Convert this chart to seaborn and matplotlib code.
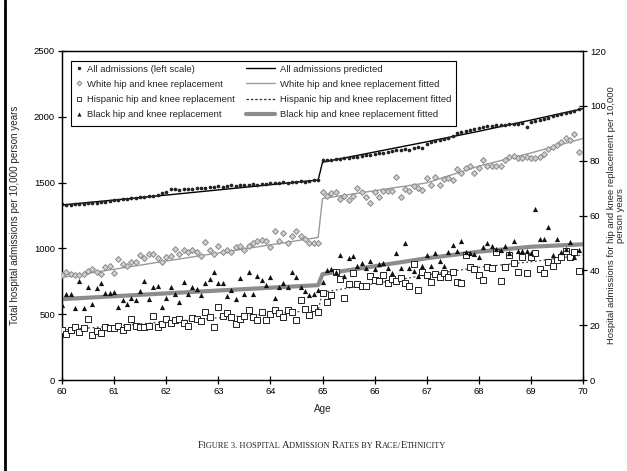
import numpy as np
import pandas as pd
import matplotlib
matplotlib.use("Agg")
import matplotlib.pyplot as plt
import seaborn as sns
from matplotlib.lines import Line2D
from matplotlib.patches import Rectangle
from matplotlib.offsetbox import TextArea, HPacker, AnchoredOffsetbox

# ---------------- data ----------------
age = np.round(60 + np.arange(120) / 12, 4)

all_adm = [
    1334, 1328, 1332, 1337, 1335, 1340, 1343, 1342, 1348, 1352, 1356, 1358,
    1364, 1370, 1372, 1376, 1380, 1384, 1388, 1392, 1396, 1401, 1408, 1422,
    1428, 1448, 1452, 1446, 1450, 1454, 1448, 1456, 1460, 1458, 1464, 1468,
    1472, 1468, 1474, 1478, 1472, 1482, 1478, 1480, 1486, 1482, 1488, 1492,
    1500, 1494, 1500, 1504, 1498, 1506, 1504, 1510, 1508, 1514, 1518, 1522,
    1668, 1672, 1675, 1678, 1680, 1684, 1688, 1692, 1698, 1702, 1706, 1712,
    1718, 1722, 1728, 1734, 1738, 1744, 1748, 1754, 1750, 1762, 1772, 1766,
    1790, 1808, 1814, 1820, 1832, 1840, 1852, 1874, 1886, 1892, 1900, 1908,
    1916, 1924, 1930, 1928, 1936, 1934, 1940, 1944, 1948, 1946, 1952, 1920,
    1958, 1966, 1972, 1984, 1992, 2004, 2016, 2024, 2030, 2040, 2046, 2058,
]

white = [
    38.3, 39.5, 38.7, 38.3, 38.3, 38.7, 39.9, 40.5, 39.5, 38.7, 41.1, 41.6,
    39.1, 44.0, 42.2, 41.6, 43.0, 43.0, 45.6, 44.4, 45.8, 45.8, 44.6, 42.9,
    45.0, 45.3, 47.7, 45.9, 47.4, 46.8, 47.4, 46.8, 45.2, 50.4, 47.4, 45.9,
    48.9, 46.8, 47.4, 46.8, 48.6, 48.9, 47.4, 48.9, 49.8, 50.8, 51.1, 50.8,
    48.4, 54.3, 50.8, 53.5, 49.8, 52.5, 54.5, 52.5, 51.3, 50.1, 50.1, 50.1,
    68.7, 67.2, 68.1, 68.7, 66.2, 67.1, 65.6, 67.1, 69.9, 68.7, 66.8, 64.4,
    68.7, 66.8, 69.0, 68.9, 69.0, 73.9, 66.8, 69.5, 68.9, 70.7, 69.9, 69.3,
    73.5, 71.1, 73.9, 71.1, 73.2, 73.5, 72.9, 76.8, 75.6, 77.5, 78.0, 75.6,
    77.5, 80.2, 78.0, 78.0, 78.0, 78.0, 80.2, 81.4, 81.7, 80.8, 80.8, 81.4,
    80.8, 80.8, 81.4, 82.6, 84.1, 85.1, 85.7, 86.9, 88.1, 87.5, 89.7, 83.3,
]

hispanic = [
    18.2, 16.6, 18.2, 19.4, 17.4, 18.8, 22.2, 16.4, 17.9, 17.3, 19.4, 18.8,
    18.8, 19.7, 18.2, 19.4, 22.2, 19.7, 19.2, 19.2, 19.7, 23.3, 19.4, 20.4,
    22.2, 20.9, 21.9, 22.2, 20.9, 19.7, 22.7, 22.2, 21.6, 24.9, 23.1, 19.4,
    26.7, 23.5, 24.3, 22.9, 20.4, 22.1, 23.5, 25.5, 22.9, 21.9, 24.9, 21.9,
    24.1, 25.5, 24.3, 22.9, 25.5, 24.7, 21.9, 29.2, 25.8, 23.7, 26.1, 24.9,
    31.8, 28.3, 31.0, 39.5, 36.7, 29.8, 35.0, 38.9, 35.0, 34.3, 34.3, 37.9,
    36.5, 36.2, 38.3, 35.2, 36.7, 36.2, 37.1, 35.5, 34.3, 42.3, 32.8, 39.5,
    38.3, 35.9, 38.7, 37.4, 38.9, 37.4, 39.5, 35.9, 35.2, 45.6, 41.1, 40.5,
    38.3, 36.5, 41.3, 40.7, 46.8, 36.2, 41.1, 45.6, 42.8, 39.5, 44.7, 39.1,
    45.0, 46.4, 40.5, 38.9, 43.1, 41.6, 43.8, 45.0, 47.2, 45.0, 46.8, 39.9,
]

black = [
    27.4, 31.2, 31.2, 26.1, 36.1, 26.1, 34.0, 27.9, 33.4, 35.2, 31.6, 31.6,
    32.0, 26.7, 29.2, 27.9, 29.8, 29.2, 32.6, 36.2, 29.7, 33.8, 34.3, 26.5,
    29.8, 33.8, 31.4, 28.6, 35.9, 31.4, 33.8, 33.1, 31.0, 35.5, 36.7, 39.5,
    35.2, 35.2, 30.6, 32.8, 29.5, 37.1, 31.2, 39.5, 31.2, 38.0, 36.5, 34.6,
    37.4, 30.0, 33.8, 35.5, 33.8, 39.5, 37.4, 33.8, 32.6, 31.0, 31.4, 32.8,
    35.9, 40.1, 40.5, 39.5, 45.6, 37.9, 44.4, 45.2, 41.6, 42.8, 40.7, 43.4,
    40.5, 42.3, 42.5, 41.0, 39.1, 46.4, 41.0, 49.8, 41.0, 39.9, 37.9, 41.6,
    45.6, 41.6, 46.2, 43.4, 41.6, 46.8, 49.2, 47.0, 50.8, 46.8, 46.2, 45.8,
    45.0, 48.6, 50.1, 48.9, 47.6, 47.4, 48.9, 46.2, 50.7, 47.2, 47.2, 47.2,
    46.2, 62.4, 51.3, 51.4, 55.9, 45.6, 51.4, 46.8, 47.6, 50.4, 45.0, 47.4,
]

# fitted lines (piecewise, break at 65)
fit_age = [60.0, 62.0, 64.917, 65.0, 67.0, 68.0, 69.0, 70.0]
all_pred = [1330, 1405, 1520, 1655, 1810, 1890, 1975, 2062]
white_fit = [37.4, 43.4, 52.0, 66.2, 71.9, 78.0, 82.8, 88.1]
hisp_fit = [18.2, 21.2, 25.5, 32.0, 38.3, 41.1, 43.1, 45.6]
black_fit = [29.5, 31.6, 34.6, 38.6, 44.4, 46.8, 48.6, 49.5]

x_ticks = [60, 61, 62, 63, 64, 65, 66, 67, 68, 69, 70]
left_ticks = [0, 500, 1000, 1500, 2000, 2500]
right_ticks = [0, 20, 40, 60, 80, 100, 120]

pts = pd.DataFrame({"age": age, "all": all_adm, "white": white,
                    "hispanic": hispanic, "black": black})
fits = pd.DataFrame({"age": fit_age, "all": all_pred, "white": white_fit,
                     "hispanic": hisp_fit, "black": black_fit})

# ---------------- style ----------------
sns.set_theme(style="ticks")
plt.rcParams["font.family"] = ["Liberation Sans", "DejaVu Sans"]
plt.rcParams["axes.linewidth"] = 0.9

W, H = 627, 471
fig = plt.figure(figsize=(W / 100, H / 100), dpi=100)
ax = fig.add_axes([62 / W, 1 - 380 / H, (583 - 62) / W, (380 - 51) / H])
ax2 = ax.twinx()

FS = 6.8

# left axis: all admissions
sns.lineplot(data=fits, x="age", y="all", ax=ax, color="black", lw=1.0,
             zorder=2, legend=False)
sns.scatterplot(data=pts, x="age", y="all", ax=ax, color="#222222", s=7,
                marker="o", linewidth=0, zorder=3, legend=False)

# right axis series
sns.lineplot(data=fits, x="age", y="black", ax=ax2, color="#8c8c8c", lw=3.0,
             zorder=2, legend=False)
sns.lineplot(data=fits, x="age", y="white", ax=ax2, color="#9a9a9a", lw=1.0,
             zorder=2, legend=False)
sns.lineplot(data=fits, x="age", y="hispanic", ax=ax2, color="#444444", lw=0.9,
             zorder=2, legend=False, linestyle=(0, (1.5, 2)))
sns.scatterplot(data=pts, x="age", y="white", ax=ax2, marker="D", s=9,
                facecolor="#d0d0d0", edgecolor="#8a8a8a", linewidth=0.7,
                zorder=3, legend=False)
sns.scatterplot(data=pts, x="age", y="hispanic", ax=ax2, marker="s", s=13,
                facecolor="white", edgecolor="#222222", linewidth=0.7,
                zorder=3, legend=False)
sns.scatterplot(data=pts, x="age", y="black", ax=ax2, marker="^", s=14,
                color="#111111", linewidth=0, zorder=3, legend=False)

ax.set_xlim(60, 70)
ax.set_ylim(0, 2500)
ax2.set_ylim(0, 120)
ax.set_xticks(x_ticks)
ax.set_yticks(left_ticks)
ax2.set_yticks(right_ticks)
for a in (ax, ax2):
    a.tick_params(direction="inout", length=6, width=0.9, labelsize=FS,
                  pad=2, colors="black")
    for s in a.spines.values():
        s.set_color("black")
        s.set_linewidth(0.9)

ax.set_xlabel("Age", fontsize=FS + 0.3, labelpad=6)
ax.set_ylabel("Total hospital admissions per 10,000 person years",
              fontsize=FS + 0.3, labelpad=10)
ax2.set_ylabel("Hospital admissions for hip and knee replacement per 10,000\nperson years",
               fontsize=FS, labelpad=1, linespacing=0.95)

# legend: two columns drawn as two frameless legends inside one frame
marker_handles = [
    Line2D([], [], ls="none", marker="o", ms=2.5, color="#222222", mew=0),
    Line2D([], [], ls="none", marker="D", ms=2.6, mfc="#d0d0d0", mec="#8a8a8a", mew=0.6),
    Line2D([], [], ls="none", marker="s", ms=2.8, mfc="white", mec="#222222", mew=0.6),
    Line2D([], [], ls="none", marker="^", ms=3.0, color="#111111", mew=0),
]
marker_labels = [
    "All admissions (left scale)",
    "White hip and knee replacement",
    "Hispanic hip and knee replacement",
    "Black hip and knee replacement",
]
line_handles = [
    Line2D([], [], color="black", lw=1.0),
    Line2D([], [], color="#9a9a9a", lw=1.0),
    Line2D([], [], color="#333333", lw=0.9, ls=(0, (2, 1.5))),
    Line2D([], [], color="#8c8c8c", lw=3.0),
]
line_labels = [
    "All admissions predicted",
    "White hip and knee replacement fitted",
    "Hispanic hip and knee replacement fitted",
    "Black hip and knee replacement fitted",
]

common = dict(loc="upper left", fontsize=FS, frameon=False, borderpad=0,
              borderaxespad=0, labelspacing=0.66,
              bbox_transform=fig.transFigure)
leg1 = ax2.legend(marker_handles, marker_labels, handlelength=0.8,
                  handletextpad=0.5, bbox_to_anchor=(75 / W, 1 - 64.5 / H),
                  **common)
leg1.set_zorder(11)
ax2.add_artist(leg1)
leg2 = ax2.legend(line_handles, line_labels, handlelength=3.07,
                  handletextpad=0.53, bbox_to_anchor=(246 / W, 1 - 64.5 / H),
                  **common)
leg2.set_zorder(11)

frame = Rectangle((71 / W, 1 - 126 / H), (456 - 71) / W, (126 - 61) / H,
                  transform=fig.transFigure, facecolor="white",
                  edgecolor="black", lw=0.8, zorder=9, clip_on=False)
ax2.add_patch(frame)

# caption in small caps (serif)
parts = [("F", 7.6), ("IGURE 3. H", 6.0), ("OSPITAL ", 6.0), ("A", 7.6),
         ("DMISSION ", 6.0), ("R", 7.6), ("ATES BY ", 6.0), ("R", 7.6),
         ("ACE/", 6.0), ("E", 7.6), ("THNICITY", 6.0)]
boxes = [TextArea(t, textprops=dict(fontsize=s, family="Liberation Serif",
                                    color="#222222")) for t, s in parts]
pack = HPacker(children=boxes, align="baseline", pad=0, sep=0)
anch = AnchoredOffsetbox(loc="center", child=pack, frameon=False,
                         bbox_to_anchor=(322 / W, 1 - 446 / H),
                         bbox_transform=fig.transFigure, borderpad=0, pad=0)
fig.add_artist(anch)

# left page border line
fig.add_artist(Line2D([5 / W, 5 / W], [0, 1], transform=fig.transFigure,
                      color="black", lw=2))

fig.savefig("out.png", dpi=100)
